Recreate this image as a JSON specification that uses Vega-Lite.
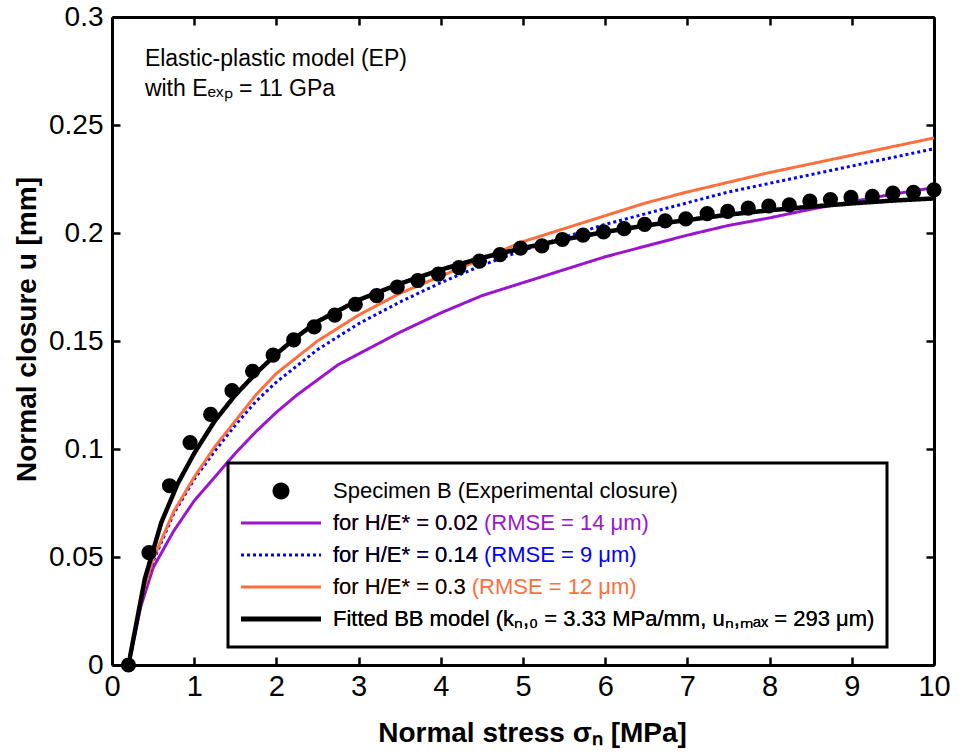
{
  "$schema": "https://vega.github.io/schema/vega-lite/v6.json",
  "width": 822,
  "height": 648,
  "autosize": {"type": "none"},
  "padding": {"left": 112, "top": 17, "right": 25, "bottom": 88},
  "background": "white",
  "config": {"view": {"stroke": null}, "font": "Liberation Sans"},
  "datasets": {
    "pts": [
      {"sigma": 0.2, "u": 0}, {"sigma": 0.45, "u": 0.052}, {"sigma": 0.7, "u": 0.083}, {"sigma": 0.95, "u": 0.103},
      {"sigma": 1.2, "u": 0.116}, {"sigma": 1.46, "u": 0.127}, {"sigma": 1.71, "u": 0.136}, {"sigma": 1.96, "u": 0.1435},
      {"sigma": 2.21, "u": 0.1505}, {"sigma": 2.46, "u": 0.1565}, {"sigma": 2.71, "u": 0.162}, {"sigma": 2.96, "u": 0.167},
      {"sigma": 3.22, "u": 0.171}, {"sigma": 3.47, "u": 0.175}, {"sigma": 3.72, "u": 0.178}, {"sigma": 3.97, "u": 0.181},
      {"sigma": 4.22, "u": 0.184}, {"sigma": 4.47, "u": 0.187}, {"sigma": 4.72, "u": 0.19}, {"sigma": 4.97, "u": 0.193},
      {"sigma": 5.23, "u": 0.194}, {"sigma": 5.48, "u": 0.197}, {"sigma": 5.73, "u": 0.199}, {"sigma": 5.98, "u": 0.2005},
      {"sigma": 6.23, "u": 0.202}, {"sigma": 6.48, "u": 0.204}, {"sigma": 6.73, "u": 0.2056}, {"sigma": 6.98, "u": 0.2065},
      {"sigma": 7.24, "u": 0.209}, {"sigma": 7.49, "u": 0.21}, {"sigma": 7.74, "u": 0.2115}, {"sigma": 7.99, "u": 0.2125},
      {"sigma": 8.24, "u": 0.213}, {"sigma": 8.49, "u": 0.2148}, {"sigma": 8.74, "u": 0.2155}, {"sigma": 8.99, "u": 0.2165},
      {"sigma": 9.25, "u": 0.217}, {"sigma": 9.5, "u": 0.2185}, {"sigma": 9.75, "u": 0.2188}, {"sigma": 10.0, "u": 0.22}
    ],
    "curves": [
      {"series": "for H/E* = 0.02", "sigma": 0.2, "u": 0}, {"series": "for H/E* = 0.02", "sigma": 0.35, "u": 0.027},
      {"series": "for H/E* = 0.02", "sigma": 0.5, "u": 0.045}, {"series": "for H/E* = 0.02", "sigma": 0.75, "u": 0.062},
      {"series": "for H/E* = 0.02", "sigma": 1.0, "u": 0.076}, {"series": "for H/E* = 0.02", "sigma": 1.25, "u": 0.087},
      {"series": "for H/E* = 0.02", "sigma": 1.5, "u": 0.098}, {"series": "for H/E* = 0.02", "sigma": 1.75, "u": 0.108},
      {"series": "for H/E* = 0.02", "sigma": 2.0, "u": 0.117}, {"series": "for H/E* = 0.02", "sigma": 2.25, "u": 0.125},
      {"series": "for H/E* = 0.02", "sigma": 2.5, "u": 0.132}, {"series": "for H/E* = 0.02", "sigma": 2.75, "u": 0.139},
      {"series": "for H/E* = 0.02", "sigma": 3.0, "u": 0.144}, {"series": "for H/E* = 0.02", "sigma": 3.5, "u": 0.154},
      {"series": "for H/E* = 0.02", "sigma": 4.0, "u": 0.163}, {"series": "for H/E* = 0.02", "sigma": 4.5, "u": 0.171},
      {"series": "for H/E* = 0.02", "sigma": 5.0, "u": 0.177}, {"series": "for H/E* = 0.02", "sigma": 5.5, "u": 0.183},
      {"series": "for H/E* = 0.02", "sigma": 6.0, "u": 0.189}, {"series": "for H/E* = 0.02", "sigma": 6.5, "u": 0.194},
      {"series": "for H/E* = 0.02", "sigma": 7.0, "u": 0.199}, {"series": "for H/E* = 0.02", "sigma": 7.5, "u": 0.2035},
      {"series": "for H/E* = 0.02", "sigma": 8.0, "u": 0.207}, {"series": "for H/E* = 0.02", "sigma": 8.5, "u": 0.211},
      {"series": "for H/E* = 0.02", "sigma": 9.0, "u": 0.2145}, {"series": "for H/E* = 0.02", "sigma": 9.5, "u": 0.218},
      {"series": "for H/E* = 0.02", "sigma": 10.0, "u": 0.221},

      {"series": "for H/E* = 0.14", "sigma": 0.2, "u": 0}, {"series": "for H/E* = 0.14", "sigma": 0.35, "u": 0.029},
      {"series": "for H/E* = 0.14", "sigma": 0.5, "u": 0.048}, {"series": "for H/E* = 0.14", "sigma": 0.75, "u": 0.07},
      {"series": "for H/E* = 0.14", "sigma": 1.0, "u": 0.086}, {"series": "for H/E* = 0.14", "sigma": 1.25, "u": 0.099},
      {"series": "for H/E* = 0.14", "sigma": 1.5, "u": 0.111}, {"series": "for H/E* = 0.14", "sigma": 1.75, "u": 0.122},
      {"series": "for H/E* = 0.14", "sigma": 2.0, "u": 0.131}, {"series": "for H/E* = 0.14", "sigma": 2.5, "u": 0.146},
      {"series": "for H/E* = 0.14", "sigma": 3.0, "u": 0.158}, {"series": "for H/E* = 0.14", "sigma": 3.5, "u": 0.168},
      {"series": "for H/E* = 0.14", "sigma": 4.0, "u": 0.177}, {"series": "for H/E* = 0.14", "sigma": 4.5, "u": 0.185},
      {"series": "for H/E* = 0.14", "sigma": 5.0, "u": 0.192}, {"series": "for H/E* = 0.14", "sigma": 5.5, "u": 0.198},
      {"series": "for H/E* = 0.14", "sigma": 6.0, "u": 0.204}, {"series": "for H/E* = 0.14", "sigma": 6.5, "u": 0.209},
      {"series": "for H/E* = 0.14", "sigma": 7.0, "u": 0.214}, {"series": "for H/E* = 0.14", "sigma": 7.5, "u": 0.219},
      {"series": "for H/E* = 0.14", "sigma": 8.0, "u": 0.223}, {"series": "for H/E* = 0.14", "sigma": 8.5, "u": 0.227},
      {"series": "for H/E* = 0.14", "sigma": 9.0, "u": 0.231}, {"series": "for H/E* = 0.14", "sigma": 9.5, "u": 0.235},
      {"series": "for H/E* = 0.14", "sigma": 10.0, "u": 0.239},

      {"series": "for H/E* = 0.3", "sigma": 0.2, "u": 0}, {"series": "for H/E* = 0.3", "sigma": 0.35, "u": 0.03},
      {"series": "for H/E* = 0.3", "sigma": 0.5, "u": 0.049}, {"series": "for H/E* = 0.3", "sigma": 0.75, "u": 0.071},
      {"series": "for H/E* = 0.3", "sigma": 1.0, "u": 0.087}, {"series": "for H/E* = 0.3", "sigma": 1.25, "u": 0.101},
      {"series": "for H/E* = 0.3", "sigma": 1.5, "u": 0.113}, {"series": "for H/E* = 0.3", "sigma": 1.75, "u": 0.125},
      {"series": "for H/E* = 0.3", "sigma": 2.0, "u": 0.135}, {"series": "for H/E* = 0.3", "sigma": 2.5, "u": 0.15},
      {"series": "for H/E* = 0.3", "sigma": 3.0, "u": 0.162}, {"series": "for H/E* = 0.3", "sigma": 3.5, "u": 0.172},
      {"series": "for H/E* = 0.3", "sigma": 4.0, "u": 0.18}, {"series": "for H/E* = 0.3", "sigma": 4.5, "u": 0.188},
      {"series": "for H/E* = 0.3", "sigma": 5.0, "u": 0.196}, {"series": "for H/E* = 0.3", "sigma": 5.5, "u": 0.202},
      {"series": "for H/E* = 0.3", "sigma": 6.0, "u": 0.208}, {"series": "for H/E* = 0.3", "sigma": 6.5, "u": 0.214},
      {"series": "for H/E* = 0.3", "sigma": 7.0, "u": 0.219}, {"series": "for H/E* = 0.3", "sigma": 7.5, "u": 0.2235},
      {"series": "for H/E* = 0.3", "sigma": 8.0, "u": 0.228}, {"series": "for H/E* = 0.3", "sigma": 8.5, "u": 0.232},
      {"series": "for H/E* = 0.3", "sigma": 9.0, "u": 0.236}, {"series": "for H/E* = 0.3", "sigma": 9.5, "u": 0.24},
      {"series": "for H/E* = 0.3", "sigma": 10.0, "u": 0.244},

      {"series": "Fitted BB model (kₙ,₀ = 3.33 MPa/mm, uₙ,ₘₐₓ = 293 μm)", "sigma": 0.22, "u": 0.004},
      {"series": "Fitted BB model (kₙ,₀ = 3.33 MPa/mm, uₙ,ₘₐₓ = 293 μm)", "sigma": 0.4, "u": 0.04},
      {"series": "Fitted BB model (kₙ,₀ = 3.33 MPa/mm, uₙ,ₘₐₓ = 293 μm)", "sigma": 0.6, "u": 0.066},
      {"series": "Fitted BB model (kₙ,₀ = 3.33 MPa/mm, uₙ,ₘₐₓ = 293 μm)", "sigma": 0.8, "u": 0.084},
      {"series": "Fitted BB model (kₙ,₀ = 3.33 MPa/mm, uₙ,ₘₐₓ = 293 μm)", "sigma": 1.0, "u": 0.098},
      {"series": "Fitted BB model (kₙ,₀ = 3.33 MPa/mm, uₙ,ₘₐₓ = 293 μm)", "sigma": 1.25, "u": 0.113},
      {"series": "Fitted BB model (kₙ,₀ = 3.33 MPa/mm, uₙ,ₘₐₓ = 293 μm)", "sigma": 1.5, "u": 0.125},
      {"series": "Fitted BB model (kₙ,₀ = 3.33 MPa/mm, uₙ,ₘₐₓ = 293 μm)", "sigma": 1.75, "u": 0.135},
      {"series": "Fitted BB model (kₙ,₀ = 3.33 MPa/mm, uₙ,ₘₐₓ = 293 μm)", "sigma": 2.0, "u": 0.144},
      {"series": "Fitted BB model (kₙ,₀ = 3.33 MPa/mm, uₙ,ₘₐₓ = 293 μm)", "sigma": 2.25, "u": 0.152},
      {"series": "Fitted BB model (kₙ,₀ = 3.33 MPa/mm, uₙ,ₘₐₓ = 293 μm)", "sigma": 2.5, "u": 0.159},
      {"series": "Fitted BB model (kₙ,₀ = 3.33 MPa/mm, uₙ,ₘₐₓ = 293 μm)", "sigma": 3.0, "u": 0.169},
      {"series": "Fitted BB model (kₙ,₀ = 3.33 MPa/mm, uₙ,ₘₐₓ = 293 μm)", "sigma": 3.5, "u": 0.1765},
      {"series": "Fitted BB model (kₙ,₀ = 3.33 MPa/mm, uₙ,ₘₐₓ = 293 μm)", "sigma": 4.0, "u": 0.183},
      {"series": "Fitted BB model (kₙ,₀ = 3.33 MPa/mm, uₙ,ₘₐₓ = 293 μm)", "sigma": 4.5, "u": 0.1885},
      {"series": "Fitted BB model (kₙ,₀ = 3.33 MPa/mm, uₙ,ₘₐₓ = 293 μm)", "sigma": 5.0, "u": 0.193},
      {"series": "Fitted BB model (kₙ,₀ = 3.33 MPa/mm, uₙ,ₘₐₓ = 293 μm)", "sigma": 5.5, "u": 0.197},
      {"series": "Fitted BB model (kₙ,₀ = 3.33 MPa/mm, uₙ,ₘₐₓ = 293 μm)", "sigma": 6.0, "u": 0.2005},
      {"series": "Fitted BB model (kₙ,₀ = 3.33 MPa/mm, uₙ,ₘₐₓ = 293 μm)", "sigma": 6.5, "u": 0.2035},
      {"series": "Fitted BB model (kₙ,₀ = 3.33 MPa/mm, uₙ,ₘₐₓ = 293 μm)", "sigma": 7.0, "u": 0.206},
      {"series": "Fitted BB model (kₙ,₀ = 3.33 MPa/mm, uₙ,ₘₐₓ = 293 μm)", "sigma": 7.5, "u": 0.2085},
      {"series": "Fitted BB model (kₙ,₀ = 3.33 MPa/mm, uₙ,ₘₐₓ = 293 μm)", "sigma": 8.0, "u": 0.2105},
      {"series": "Fitted BB model (kₙ,₀ = 3.33 MPa/mm, uₙ,ₘₐₓ = 293 μm)", "sigma": 8.5, "u": 0.2122},
      {"series": "Fitted BB model (kₙ,₀ = 3.33 MPa/mm, uₙ,ₘₐₓ = 293 μm)", "sigma": 9.0, "u": 0.2137},
      {"series": "Fitted BB model (kₙ,₀ = 3.33 MPa/mm, uₙ,ₘₐₓ = 293 μm)", "sigma": 9.5, "u": 0.215},
      {"series": "Fitted BB model (kₙ,₀ = 3.33 MPa/mm, uₙ,ₘₐₓ = 293 μm)", "sigma": 10.0, "u": 0.216}
    ]
  },
  "layer": [
    {
      "data": {"name": "curves"},
      "transform": [{"filter": {"field": "series", "oneOf": ["for H/E* = 0.02", "for H/E* = 0.14", "for H/E* = 0.3"]}}],
      "mark": {"type": "line", "strokeWidth": 3, "strokeCap": "butt"},
      "encoding": {
        "x": {
          "field": "sigma", "type": "quantitative",
          "scale": {"domain": [0, 10], "nice": false, "zero": false},
          "axis": {
            "orient": "bottom", "values": [0, 1, 2, 3, 4, 5, 6, 7, 8, 9, 10], "grid": false,
            "domainColor": "black", "domainWidth": 3, "tickColor": "black", "tickWidth": 2.5, "tickSize": -8,
            "labelFont": "Liberation Sans", "labelFontSize": 29, "labelColor": "black", "labelPadding": 15,
            "labelFlush": false, "labelOverlap": false,
            "title": "Normal stress σₙ [MPa]", "titleFont": "Liberation Sans", "titleFontWeight": "bold",
            "titleFontSize": 28, "titleColor": "black", "titlePadding": 18, "titleX": 420
          }
        },
        "y": {
          "field": "u", "type": "quantitative",
          "scale": {"domain": [0, 0.3], "nice": false},
          "axis": {
            "orient": "left", "values": [0, 0.05, 0.1, 0.15, 0.2, 0.25, 0.3], "format": "~g", "grid": false,
            "domainColor": "black", "domainWidth": 3, "tickColor": "black", "tickWidth": 2.5, "tickSize": -8,
            "labelFont": "Liberation Sans", "labelFontSize": 28, "labelColor": "black", "labelPadding": 17,
            "labelFlush": false, "labelOverlap": false,
            "title": "Normal closure u [mm]", "titleFont": "Liberation Sans", "titleFontWeight": "bold",
            "titleFontSize": 28, "titleColor": "black", "titlePadding": 7, "titleY": 312
          }
        },
        "color": {
          "field": "series", "type": "nominal",
          "scale": {
            "domain": ["Specimen B (Experimental closure)", "for H/E* = 0.02", "for H/E* = 0.14", "for H/E* = 0.3", "Fitted BB model (kₙ,₀ = 3.33 MPa/mm, uₙ,ₘₐₓ = 293 μm)"],
            "range": ["black", "#9b15d0", "#0000ff", "#ff6f3d", "black"]
          },
          "legend": {
            "orient": "none", "legendX": 116, "legendY": 446, "direction": "vertical", "title": null,
            "labelExpr": "datum.label + (datum.label == 'for H/E* = 0.02' ? ' (RMSE = 14 μm)' : datum.label == 'for H/E* = 0.14' ? ' (RMSE = 9 μm)' : datum.label == 'for H/E* = 0.3' ? ' (RMSE = 12 μm)' : '')",
            "labelFont": "Liberation Sans", "labelFontSize": 22, "labelLimit": 900, "labelOffset": 41,
            "symbolType": "stroke", "symbolSize": 6400, "symbolStrokeWidth": 3, "symbolOffset": 30,
            "clipHeight": 32, "rowPadding": 0, "padding": 12,
            "strokeColor": "black", "fillColor": "white",
            "encode": {
              "legend": {"update": {"strokeWidth": {"value": 3}}},
              "symbols": {"update": {
                "shape": {"signal": "datum.index == 0 ? 'M-0.2125,0A0.2125,0.2125,0,1,0,0.2125,0A0.2125,0.2125,0,1,0,-0.2125,0Z' : 'stroke'"},
                "fill": {"signal": "datum.index == 0 ? 'black' : 'transparent'"},
                "stroke": {"signal": "datum.index == 1 ? '#9b15d0' : datum.index == 2 ? '#0000ff' : datum.index == 3 ? '#ff6f3d' : 'black'"},
                "strokeWidth": {"signal": "datum.index == 0 ? 0 : datum.index == 4 ? 5 : 3"},
                "strokeDash": {"signal": "datum.index == 2 ? [3, 3] : [1, 0]"},
                "opacity": {"value": 1}
              }},
              "labels": {"update": {
                "fill": {"signal": "datum.index == 1 ? '#9b15d0' : datum.index == 2 ? '#0000ff' : datum.index == 3 ? '#ff6f3d' : 'black'"}
              }}
            }
          }
        },
        "strokeDash": {
          "field": "series", "type": "nominal",
          "scale": {
            "domain": ["for H/E* = 0.02", "for H/E* = 0.14", "for H/E* = 0.3", "Fitted BB model (kₙ,₀ = 3.33 MPa/mm, uₙ,ₘₐₓ = 293 μm)"],
            "range": [[1, 0], [3, 3], [1, 0], [1, 0]]
          },
          "legend": {
            "orient": "none", "legendX": 116, "legendY": 478, "direction": "vertical", "title": null,
            "labelFont": "Liberation Sans", "labelFontSize": 22, "labelLimit": 900, "labelOffset": 41,
            "labelColor": "black",
            "symbolType": "stroke", "symbolSize": 6400, "symbolStrokeWidth": 3, "symbolOffset": 30, "symbolOpacity": 0,
            "clipHeight": 32, "rowPadding": 0, "padding": 12,
            "zindex": 2,
            "encode": {
              "symbols": {"update": {
                "strokeWidth": {"signal": "datum.index == 3 ? 5 : 3"},
                "opacity": {"value": 0}
              }}
            }
          }
        }
      }
    },
    {
      "data": {"name": "curves"},
      "transform": [{"filter": {"field": "series", "equal": "Fitted BB model (kₙ,₀ = 3.33 MPa/mm, uₙ,ₘₐₓ = 293 μm)"}}],
      "mark": {"type": "line", "strokeWidth": 4.5, "strokeCap": "round"},
      "encoding": {
        "x": {
          "field": "sigma", "type": "quantitative",
          "axis": {
            "orient": "top", "values": [0, 1, 2, 3, 4, 5, 6, 7, 8, 9, 10], "grid": false, "labels": false, "title": null,
            "domainColor": "black", "domainWidth": 3, "tickColor": "black", "tickWidth": 2.5, "tickSize": -8
          }
        },
        "y": {
          "field": "u", "type": "quantitative",
          "axis": {
            "orient": "right", "values": [0, 0.05, 0.1, 0.15, 0.2, 0.25, 0.3], "grid": false, "labels": false, "title": null,
            "domainColor": "black", "domainWidth": 3, "tickColor": "black", "tickWidth": 2.5, "tickSize": -8
          }
        },
        "color": {"field": "series", "type": "nominal"},
        "strokeDash": {"field": "series", "type": "nominal"}
      }
    },
    {
      "data": {"name": "pts"},
      "mark": {"type": "point", "filled": true, "color": "black", "size": 230, "opacity": 1},
      "encoding": {
        "x": {"field": "sigma", "type": "quantitative", "axis": null},
        "y": {"field": "u", "type": "quantitative", "axis": null}
      }
    },
    {
      "data": {"values": [{}]},
      "mark": {"type": "text", "align": "left", "baseline": "top", "font": "Liberation Sans", "fontSize": 23, "lineHeight": 30, "color": "black",
        "text": ["Elastic-plastic model (EP)", "with Eₑₓₚ = 11 GPa"]},
      "encoding": {
        "x": {"datum": 0.4, "type": "quantitative", "axis": null},
        "y": {"datum": 0.2855, "type": "quantitative", "axis": null}
      }
    }
  ],
  "resolve": {"axis": {"x": "independent", "y": "independent"}}
}
